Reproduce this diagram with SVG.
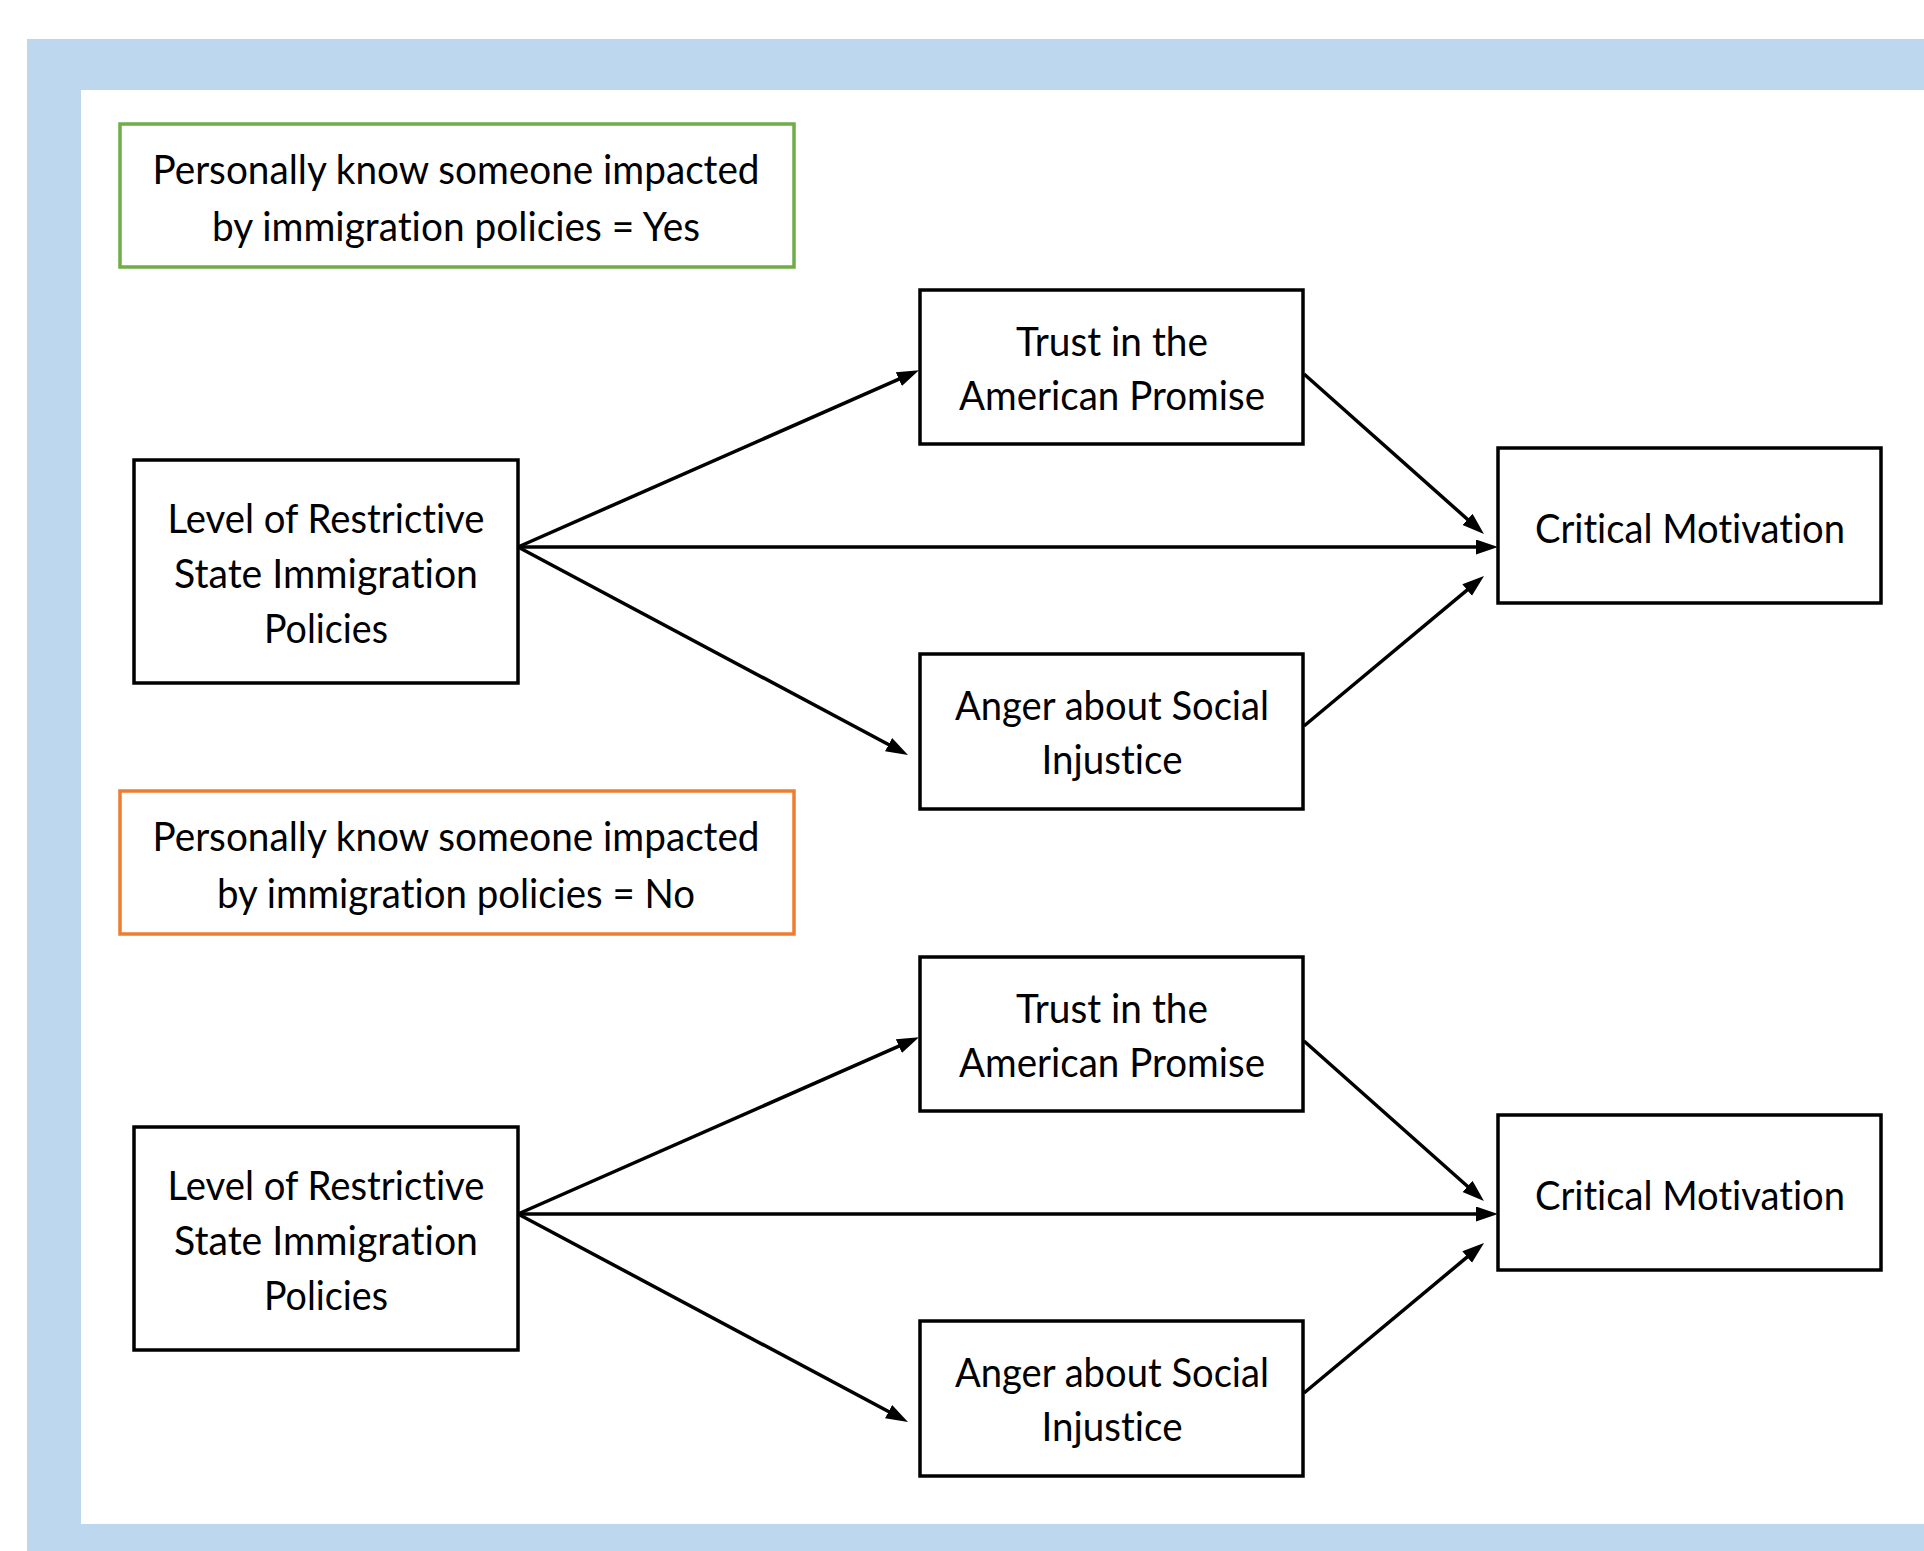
<svg xmlns="http://www.w3.org/2000/svg" width="1924" height="1551" viewBox="0 0 1924 1551">
<style>
.box{fill:#fff;stroke:#000;stroke-width:3.5}
.t{font-family:Lato,"Open Sans","Liberation Sans",sans-serif;font-size:40px;fill:#000;text-anchor:middle;font-variant-ligatures:none}
.c{stroke:#000;stroke-width:3.5;fill:none;marker-end:url(#ah)}
</style>
<defs>
<marker id="ah" markerUnits="userSpaceOnUse" markerWidth="24" markerHeight="16" refX="10" refY="7.5" orient="auto">
<path d="M0,0 L22,7.5 L0,15 z" fill="#000"/>
</marker>
</defs>
<rect x="0" y="0" width="1924" height="1551" fill="#fff"/>
<rect x="27" y="39" width="1897" height="1512" fill="#BDD7EE"/>
<rect x="81" y="90" width="1843" height="1434" fill="#fff"/>

<g id="legend-yes">
<rect x="120" y="124" width="674" height="143" fill="#fff" stroke="#70AD47" stroke-width="3.5"/>
<text class="t" x="456" y="184" textLength="607" lengthAdjust="spacingAndGlyphs">Personally know someone impacted</text>
<text class="t" x="456" y="241" textLength="488" lengthAdjust="spacingAndGlyphs">by immigration policies = Yes</text>
</g>
<g id="legend-no">
<rect x="120" y="791" width="674" height="143" fill="#fff" stroke="#ED7D31" stroke-width="3.5"/>
<text class="t" x="456" y="851" textLength="607" lengthAdjust="spacingAndGlyphs">Personally know someone impacted</text>
<text class="t" x="456" y="908" textLength="478" lengthAdjust="spacingAndGlyphs">by immigration policies = No</text>
</g>

<g id="connectors">
<line class="c" x1="518" y1="547" x2="908" y2="375.2"/>
<line class="c" x1="518" y1="547" x2="1486" y2="547"/>
<line class="c" x1="518" y1="547" x2="897.4" y2="749.3"/>
<line class="c" x1="1304" y1="374" x2="1475" y2="526"/>
<line class="c" x1="1304" y1="726" x2="1474.8" y2="583.7"/>
<line class="c" x1="518" y1="1214" x2="908" y2="1042.2"/>
<line class="c" x1="518" y1="1214" x2="1486" y2="1214"/>
<line class="c" x1="518" y1="1214" x2="897.4" y2="1416.3"/>
<line class="c" x1="1304" y1="1041" x2="1475" y2="1193"/>
<line class="c" x1="1304" y1="1393" x2="1474.8" y2="1250.7"/>
</g>

<g id="level-yes">
<rect class="box" x="134" y="460" width="384" height="223"/>
<text class="t" x="326" y="533" textLength="317" lengthAdjust="spacingAndGlyphs">Level of Restrictive</text>
<text class="t" x="326" y="588" textLength="304" lengthAdjust="spacingAndGlyphs">State Immigration</text>
<text class="t" x="326" y="643" textLength="124" lengthAdjust="spacingAndGlyphs">Policies</text>
</g>
<g id="trust-yes">
<rect class="box" x="920" y="290" width="383" height="154"/>
<text class="t" x="1112" y="356" textLength="192" lengthAdjust="spacingAndGlyphs">Trust in the</text>
<text class="t" x="1112" y="410" textLength="306" lengthAdjust="spacingAndGlyphs">American Promise</text>
</g>
<g id="anger-yes">
<rect class="box" x="920" y="654" width="383" height="155"/>
<text class="t" x="1112" y="720" textLength="314" lengthAdjust="spacingAndGlyphs">Anger about Social</text>
<text class="t" x="1112" y="774" textLength="141" lengthAdjust="spacingAndGlyphs">Injustice</text>
</g>
<g id="critical-yes">
<rect class="box" x="1498" y="448" width="383" height="155"/>
<text class="t" x="1690" y="543" textLength="310" lengthAdjust="spacingAndGlyphs">Critical Motivation</text>
</g>

<g id="level-no">
<rect class="box" x="134" y="1127" width="384" height="223"/>
<text class="t" x="326" y="1200" textLength="317" lengthAdjust="spacingAndGlyphs">Level of Restrictive</text>
<text class="t" x="326" y="1255" textLength="304" lengthAdjust="spacingAndGlyphs">State Immigration</text>
<text class="t" x="326" y="1310" textLength="124" lengthAdjust="spacingAndGlyphs">Policies</text>
</g>
<g id="trust-no">
<rect class="box" x="920" y="957" width="383" height="154"/>
<text class="t" x="1112" y="1023" textLength="192" lengthAdjust="spacingAndGlyphs">Trust in the</text>
<text class="t" x="1112" y="1077" textLength="306" lengthAdjust="spacingAndGlyphs">American Promise</text>
</g>
<g id="anger-no">
<rect class="box" x="920" y="1321" width="383" height="155"/>
<text class="t" x="1112" y="1387" textLength="314" lengthAdjust="spacingAndGlyphs">Anger about Social</text>
<text class="t" x="1112" y="1441" textLength="141" lengthAdjust="spacingAndGlyphs">Injustice</text>
</g>
<g id="critical-no">
<rect class="box" x="1498" y="1115" width="383" height="155"/>
<text class="t" x="1690" y="1210" textLength="310" lengthAdjust="spacingAndGlyphs">Critical Motivation</text>
</g>
</svg>
